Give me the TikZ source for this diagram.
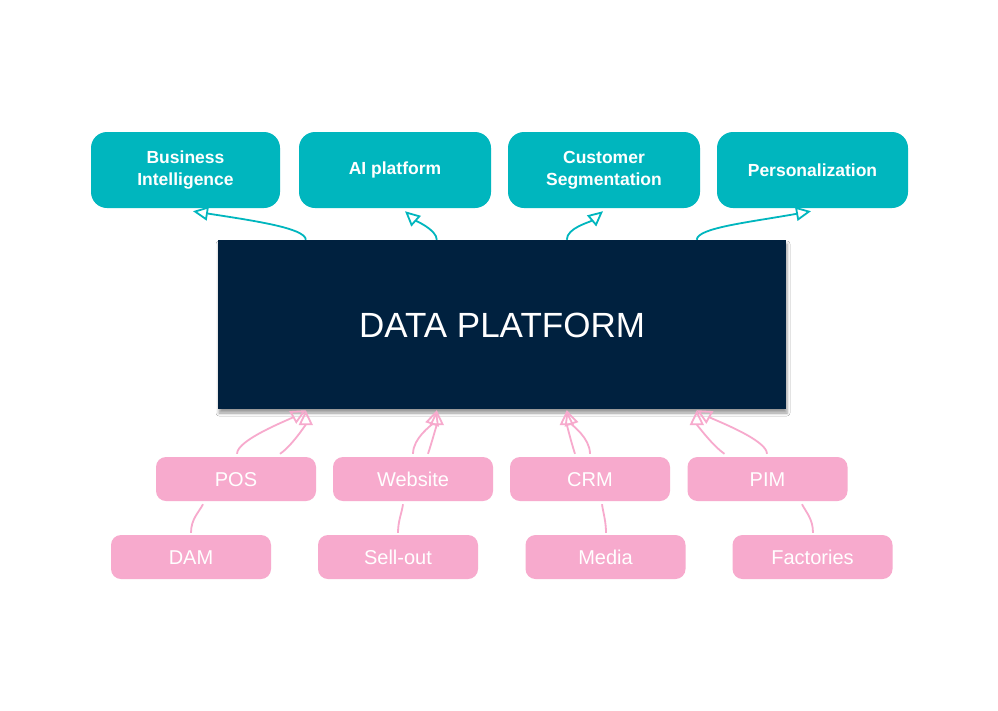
\documentclass[tikz,border=0pt]{standalone}
\usepackage{fontspec}
\setmainfont{Liberation Sans}
\usetikzlibrary{arrows.meta,calc,shadows.blur}
\definecolor{teal1}{HTML}{00B6BE}
\definecolor{navy1}{HTML}{00213F}
\definecolor{pink1}{HTML}{F7AACD}
\tikzset{
  topbox/.style={fill=teal1,rounded corners=16pt,minimum width=191pt,minimum height=76pt,
    text=white,font=\fontsize{17.5}{22}\selectfont\bfseries,align=center,inner sep=0pt},
  srcbox/.style={fill=pink1,rounded corners=10pt,minimum width=160pt,minimum height=44pt,
    text=white,font=\fontsize{20}{24}\selectfont,inner sep=0pt,text height=14.3pt,text depth=0pt},
  outarrow/.style={draw=teal1,line width=1.8pt,-{Triangle[open,length=15pt,width=14pt,line width=1.8pt]}},
  inarrow/.style={draw=pink1,line width=1.8pt,-{Triangle[open,length=15pt,width=14pt,line width=1.8pt]}},
  link/.style={draw=pink1,line width=1.8pt},
}
\begin{document}
\begin{tikzpicture}[x=1pt,y=-1pt]
\useasboundingbox (0,0) rectangle (998,710);
\fill[white] (0,0) rectangle (998,710);
% top nodes
\node[topbox,minimum width=189pt] (bi) at (185.5,170) {Business\\Intelligence};
\node[topbox,minimum width=192pt] (ai) at (395,170) {AI platform};
\node[topbox,minimum width=192pt] (cs) at (604,170) {Customer\\Segmentation};
\node[topbox] (pers) at (812.5,170) {Personalization};
% data platform
\node[fill=navy1,minimum width=568pt,minimum height=169pt,inner sep=0pt,text=white,
  font=\fontsize{35}{40}\selectfont,text height=25pt,text depth=0pt,
  blur shadow={shadow xshift=1pt,shadow yshift=-4pt,shadow blur radius=3pt,shadow opacity=40}]
  (dp) at (502,324.5) {DATA PLATFORM};
% sources
\node[srcbox] (pos) at (236,479) {POS};
\node[srcbox] (web) at (413,479) {Website};
\node[srcbox] (crm) at (590,479) {CRM};
\node[srcbox] (pim) at (767.5,479) {PIM};
\node[srcbox] (dam) at (191,557) {DAM};
\node[srcbox] (sell) at (398,557) {Sell-out};
\node[srcbox] (media) at (605.5,557) {Media};
\node[srcbox] (fac) at (812.5,557) {Factories};
% outgoing arrows
\draw[outarrow] ($(dp.north west)+(88,0)$) .. controls +(0,-12) and +(57,9) .. ($(bi.south)+(7.5,3)$);
\draw[outarrow] ($(dp.north west)+(219,0)$) .. controls +(0,-10) and +(10,9) .. ($(ai.south)+(10,3)$);
\draw[outarrow] ($(dp.north west)+(349,0)$) .. controls +(0,-12) and +(-13,11) .. ($(cs.south)+(-1,3)$);
\draw[outarrow] ($(dp.north west)+(479,0)$) .. controls +(0,-12) and +(-61,11) .. ($(pers.south)+(-1.5,3)$);
% incoming arrows
\draw[inarrow] ($(pos.north)+(1,-3)$) .. controls +(0,-14) and +(-18,10) .. ($(dp.south west)+(88,1)$);
\draw[inarrow] ($(pos.north)+(44,-3)$) .. controls +(12,-8) and +(0,14) .. ($(dp.south west)+(88,1)$);
\draw[inarrow] ($(web.north)+(0,-3)$) .. controls +(0,-16) and +(-5,15) .. ($(dp.south west)+(219,1)$);
\draw[inarrow] ($(web.north)+(15,-3)$) .. controls +(4,-12) and +(0,14) .. ($(dp.south west)+(219,1)$);
\draw[inarrow] ($(crm.north)+(-15,-3)$) .. controls +(-4,-12) and +(0,14) .. ($(dp.south west)+(349,1)$);
\draw[inarrow] ($(crm.north)+(0,-3)$) .. controls +(0,-16) and +(5,15) .. ($(dp.south west)+(349,1)$);
\draw[inarrow] ($(pim.north)+(-43,-3)$) .. controls +(-12,-8) and +(0,14) .. ($(dp.south west)+(479,1)$);
\draw[inarrow] ($(pim.north)+(-0.5,-3)$) .. controls +(0,-14) and +(18,10) .. ($(dp.south west)+(479,1)$);
% second row links
\draw[link] ($(dam.north)+(0,-2)$) .. controls +(0,-14) and +(-4,8) .. ($(pos.south)+(-33,3)$);
\draw[link] ($(sell.north)+(0,-2)$) .. controls +(0,-12) and +(-1,8) .. ($(web.south)+(-10,3)$);
\draw[link] ($(media.north)+(0.5,-2)$) .. controls +(0,-12) and +(1,8) .. ($(crm.south)+(12,3)$);
\draw[link] ($(fac.north)+(0.5,-2)$) .. controls +(0,-14) and +(4,8) .. ($(pim.south)+(34.5,3)$);
\end{tikzpicture}
\end{document}
